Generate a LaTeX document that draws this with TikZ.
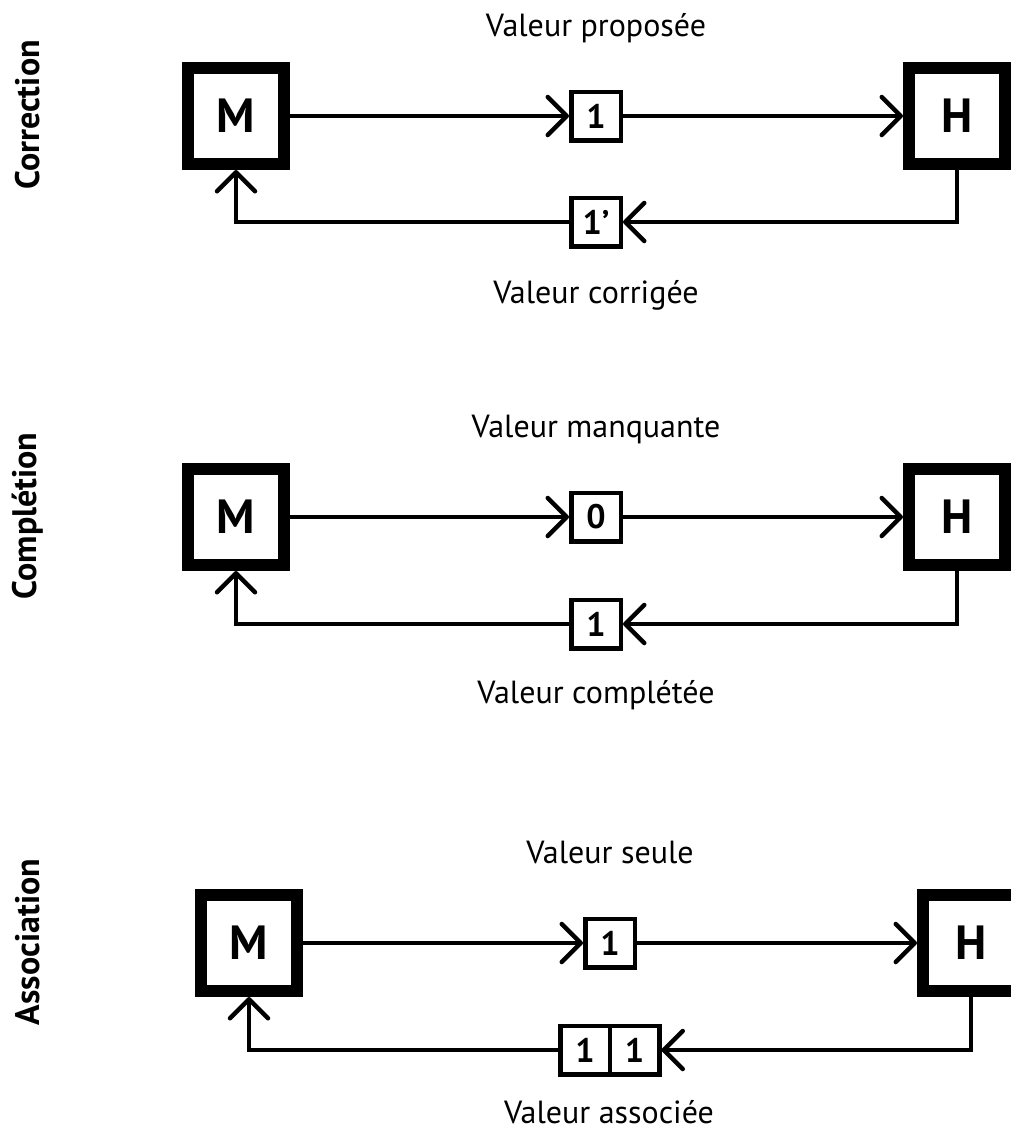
\documentclass[tikz,border=0pt]{standalone}
\usepackage{fontspec}
\setmainfont{PT Sans}
\usepackage{tikz}
\usetikzlibrary{positioning, arrows.meta}
\definecolor{DiagInk}{RGB}{0,0,0}

\begin{document}
\begin{tikzpicture}[x=1pt, y=-1pt,
      >={Straight Barb[length=19pt, width=38pt, round]},
      agent/.style={rectangle, draw=DiagInk, fill=white, line width=12pt,
                    minimum width=96pt, minimum height=96pt, inner sep=0pt,
                    font=\fontsize{48}{52}\selectfont\bfseries},
      val/.style={rectangle, draw=DiagInk, fill=white, line width=4.5pt,
                  minimum width=49.5pt, minimum height=48.5pt, inner sep=0pt,
                  font=\fontsize{34}{38}\selectfont\bfseries},
      lbl/.style={font=\fontsize{32}{36}\selectfont, DiagInk, anchor=base,
                  inner sep=0pt},
      side/.style={font=\fontsize{34}{38}\selectfont\bfseries, DiagInk, rotate=90},
      link/.style={line width=4.5pt, DiagInk}
    ]
    \useasboundingbox (0,0) rectangle (1011,1133);

    % Correction
    \node[side] (s1) at (28, 115) {Correction};
    \node[agent] (m1) at (236, 116) {M};
    \node[agent] (h1) at (957, 116) {H};
    \node[val] (v1) at (596, 116) {1};
    \node[val] (r1) at (596, 222) {1’};
    \node[lbl] (t1) at (596, 36) {Valeur proposée};
    \node[lbl] (b1) at (596, 303) {Valeur corrigée};
    \draw[link, ->] (m1.east) -- (v1.west);
    \draw[link, ->] (v1.east) -- (h1.west);
    \draw[link, ->] (h1.south) |- (r1.east);
    \draw[link, ->] (r1.west) -| (m1.south);

    % Completion
    \node[side] (s2) at (28, 516) {Complétion};
    \node[agent] (m2) at (236, 517) {M};
    \node[agent] (h2) at (957, 517) {H};
    \node[val] (v2) at (596, 517) {0};
    \node[val] (r2) at (596, 624) {1};
    \node[lbl] (t2) at (596, 437) {Valeur manquante};
    \node[lbl] (b2) at (596, 703) {Valeur complétée};
    \draw[link, ->] (m2.east) -- (v2.west);
    \draw[link, ->] (v2.east) -- (h2.west);
    \draw[link, ->] (h2.south) |- (r2.east);
    \draw[link, ->] (r2.west) -| (m2.south);

    % Association
    \node[side] (s3) at (28, 942) {Association};
    \node[agent] (m3) at (249, 943) {M};
    \node[agent] (h3) at (971, 943) {H};
    \node[val] (v3) at (610, 943) {1};
    \node[val] (r3a) at (585, 1050) {1};
    \node[val, right=-4.5pt of r3a] (r3b) {1};
    \node[lbl] (t3) at (610, 863) {Valeur seule};
    \node[lbl] (b3) at (609, 1123) {Valeur associée};
    \draw[link, ->] (m3.east) -- (v3.west);
    \draw[link, ->] (v3.east) -- (h3.west);
    \draw[link, ->] (h3.south) |- (r3b.east);
    \draw[link, ->] (r3a.west) -| (m3.south);
\end{tikzpicture}
\end{document}
